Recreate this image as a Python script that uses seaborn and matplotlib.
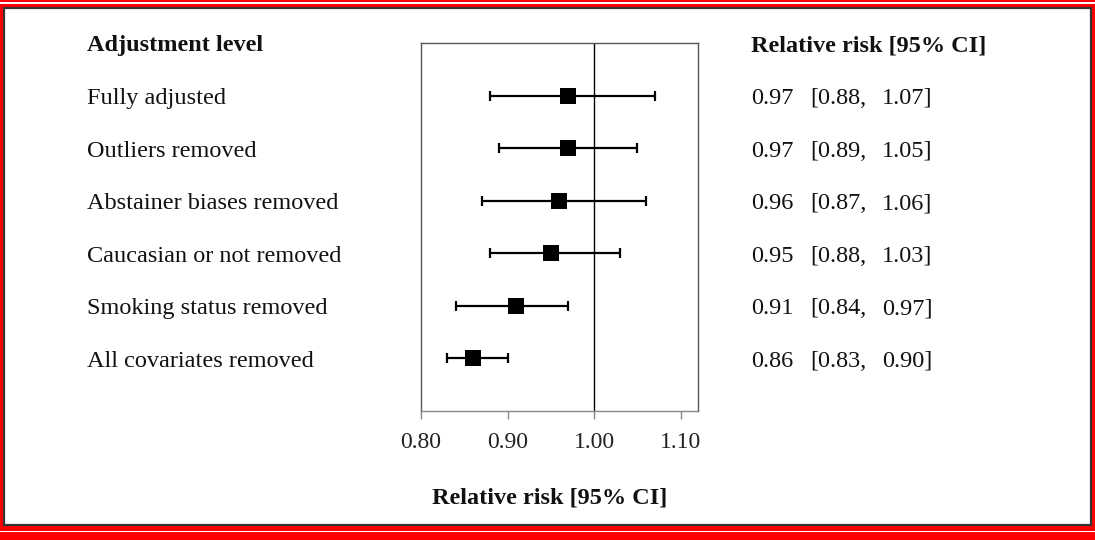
import matplotlib
matplotlib.use("Agg")
import matplotlib.pyplot as plt
import seaborn as sns
import pandas as pd
from matplotlib.patches import Rectangle
from matplotlib.transforms import blended_transform_factory

labels = ["Fully adjusted", "Outliers removed", "Abstainer biases removed",
          "Caucasian or not removed", "Smoking status removed", "All covariates removed"]
rr = [0.97, 0.97, 0.96, 0.95, 0.91, 0.86]
lo = [0.88, 0.89, 0.87, 0.88, 0.84, 0.83]
hi = [1.07, 1.05, 1.06, 1.03, 0.97, 0.90]
xticks = [0.80, 0.90, 1.00, 1.10]
xtick_labels = ["0.80", "0.90", "1.00", "1.10"]

sns.set_theme(style="white")
plt.rcParams['font.family'] = ['Liberation Serif', 'DejaVu Serif']

W, H = 1095, 540
fig = plt.figure(figsize=(W / 100, H / 100), dpi=100)
fig.patch.set_facecolor("#ff0000")

# frame decoration
fig.patches.append(Rectangle((0 / W, 1 - 3.5 / H), 1, 1 / H, transform=fig.transFigure,
                             facecolor="white", edgecolor="none", zorder=-10))
fig.patches.append(Rectangle((0 / W, 1 - 532 / H), 1, 1 / H, transform=fig.transFigure,
                             facecolor="white", edgecolor="none", zorder=-10))
fig.patches.append(Rectangle((4 / W, 1 - 525 / H), (1091 - 4) / W, (525 - 8) / H,
                             transform=fig.transFigure, facecolor="white",
                             edgecolor="#333333", linewidth=1.6, zorder=-10))

df = pd.DataFrame({"label": labels, "rr": rr, "lo": lo, "hi": hi,
                   "pos": list(range(1, len(labels) + 1))})

ax = fig.add_axes([421 / W, 1 - 411 / H, 277 / W, 368 / H])
ax.set_zorder(1)
ax.patch.set_alpha(0)
ax.errorbar(df["rr"], df["pos"], xerr=[df["rr"] - df["lo"], df["hi"] - df["rr"]],
            fmt="none", ecolor="black", elinewidth=1.6, capsize=3.4, capthick=1.6, zorder=2)
sns.scatterplot(data=df, x="rr", y="pos", marker="s", s=130, color="black",
                edgecolor="black", linewidth=0, ax=ax, zorder=3, legend=False)
ax.axvline(1.0, color="black", linewidth=1.0, zorder=1)

fs = 17.5
ax.set_xlim(0.80, 1.12)
ax.set_ylim(7, 0)
ax.set_yticks([])
ax.set_xticks(xticks)
ax.set_xticklabels(xtick_labels, fontsize=17)
ax.tick_params(axis="x", direction="out", length=6, width=1, color="#888888",
               pad=9, bottom=True, labelcolor="#222222")
ax.set_xlabel("")
ax.set_ylabel("")
for s in ax.spines.values():
    s.set_color("#555555")
    s.set_linewidth(1.0)
ax.spines["bottom"].set_color("#888888")

tr = blended_transform_factory(fig.transFigure, ax.transData)
va = "baseline"
off = 0.16
ax.text(87 / W, 0 + off, "Adjustment level", transform=tr, fontsize=fs, fontweight="bold",
        ha="left", va=va, color="#111111", clip_on=False)
ax.text(751 / W, 0 + off, "Relative risk [95% CI]", transform=tr, fontsize=fs, fontweight="bold",
        ha="left", va=va, color="#111111", clip_on=False)
for i, row in df.iterrows():
    y = row["pos"] + off
    ax.text(87 / W, y, row["label"], transform=tr, fontsize=fs, ha="left", va=va,
            color="#111111", clip_on=False)
    ax.text(751 / W, y, f"{row['rr']:.2f}", transform=tr, fontsize=fs, ha="left",
            va=va, color="#111111", clip_on=False)
    ax.text(810 / W, y, f"[{row['lo']:.2f},", transform=tr, fontsize=fs, ha="left",
            va=va, color="#111111", clip_on=False)
    ax.text(882 / W, y, f"{row['hi']:.2f}]", transform=tr, fontsize=fs, ha="left",
            va=va, color="#111111", clip_on=False)

fig.text(550 / W, 1 - 498 / H, "Relative risk [95% CI]", fontsize=fs, fontweight="bold",
         ha="center", va="center", color="#111111")

fig.savefig("out.png", dpi=100, facecolor=fig.get_facecolor())
